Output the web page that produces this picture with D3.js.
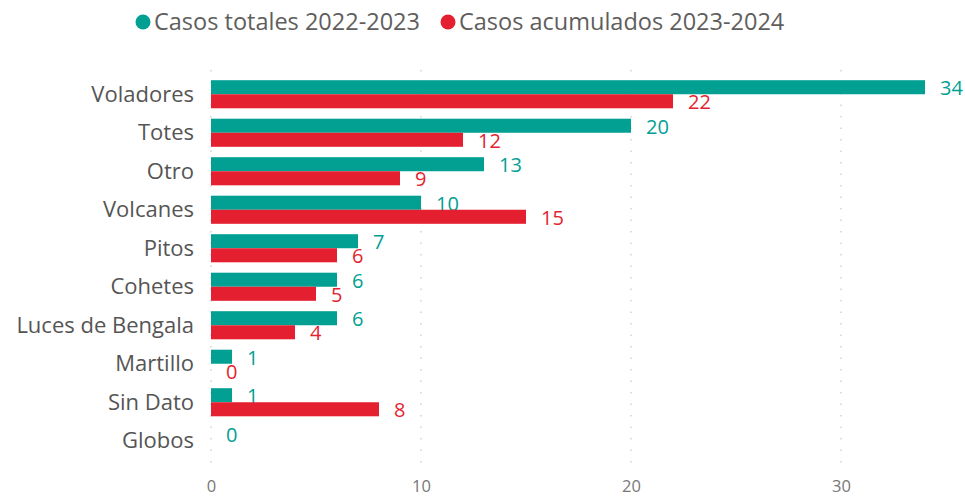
<!DOCTYPE html>
<html><head><meta charset="utf-8">
<script src="https://cdn.jsdelivr.net/npm/d3@7"></script>
<style>
html,body{margin:0;padding:0;background:#fff;}
svg{display:block;font-family:"Segoe UI","Open Sans",sans-serif;}
</style></head>
<body>
<svg id="chart" width="965" height="498"></svg>
<script>
const categories = ["Voladores","Totes","Otro","Volcanes","Pitos","Cohetes","Luces de Bengala","Martillo","Sin Dato","Globos"];
const series = ["Casos totales 2022-2023","Casos acumulados 2023-2024"];
const totales2223 = [34,20,13,10,7,6,6,1,1,0];
const acumulados2324 = [22,12,9,15,6,5,4,0,8,null];
const tickValues = [0,10,20,30];
const colors = ["#01A093","#E41F2F"];
const FONT = "'Open Sans',sans-serif";

const svg = d3.select("#chart");
const x = d3.scaleLinear().domain([0,40]).range([211,1051]);
const y = d3.scaleBand().domain(categories).range([75,460]).paddingInner(0.27).paddingOuter(0.135);
const ySub = d3.scaleBand().domain([0,1]).range([0,y.bandwidth()]);

// gridlines
svg.append("g").selectAll("line").data(tickValues).join("line")
  .attr("x1",d=>x(d)).attr("x2",d=>x(d)).attr("y1",70).attr("y2",472)
  .attr("stroke","#c8c8c8").attr("stroke-width",1.2).attr("stroke-dasharray","1.5,10");

// x axis
const xAxis = d3.axisBottom(x).tickValues(tickValues).tickSize(0).tickPadding(0);
const gx = svg.append("g").attr("transform","translate(0,480)").call(xAxis);
gx.select(".domain").remove();
gx.selectAll("text").attr("fill","#777").style("font-size","16.5px").attr("font-family",FONT);

// y axis
const yAxis = d3.axisLeft(y).tickSize(0).tickPadding(0);
const gy = svg.append("g").attr("transform","translate(194,0)").call(yAxis);
gy.select(".domain").remove();
gy.selectAll("text").attr("fill","#555").style("font-size","22px").attr("font-family",FONT)
  .attr("dy","0.34em");

const data = [totales2223, acumulados2324];
data.forEach((vals,si)=>{
  const g = svg.append("g");
  const rows = categories.map((c,i)=>({c, v: vals[i]})).filter(d=>d.v!==null);
  g.selectAll("rect").data(rows).join("rect")
    .attr("x",x(0)).attr("y",d=>y(d.c)+ySub(si))
    .attr("width",d=>x(d.v)-x(0)).attr("height",ySub.bandwidth())
    .attr("fill",colors[si]);
  g.selectAll("text").data(rows).join("text")
    .attr("x",d=>x(d.v)+15).attr("y",d=>y(d.c)+ySub(si)+ySub.bandwidth()/2+1)
    .attr("dy","0.34em").attr("font-family",FONT)
    .attr("fill",colors[si]).attr("font-size","20px")
    .text(d=>d.v);
});

// legend
const leg = svg.append("g");
const lx = [143, 448];
series.forEach((s,i)=>{
  leg.append("circle").attr("cx",lx[i]).attr("cy",22).attr("r",7.5).attr("fill",colors[i]);
  leg.append("text").attr("x",lx[i]+11).attr("y",22).attr("dy","0.36em").attr("font-family",FONT)
    .attr("fill","#605E5C").attr("font-size","23.5px").text(s);
});
</script>
</body></html>
